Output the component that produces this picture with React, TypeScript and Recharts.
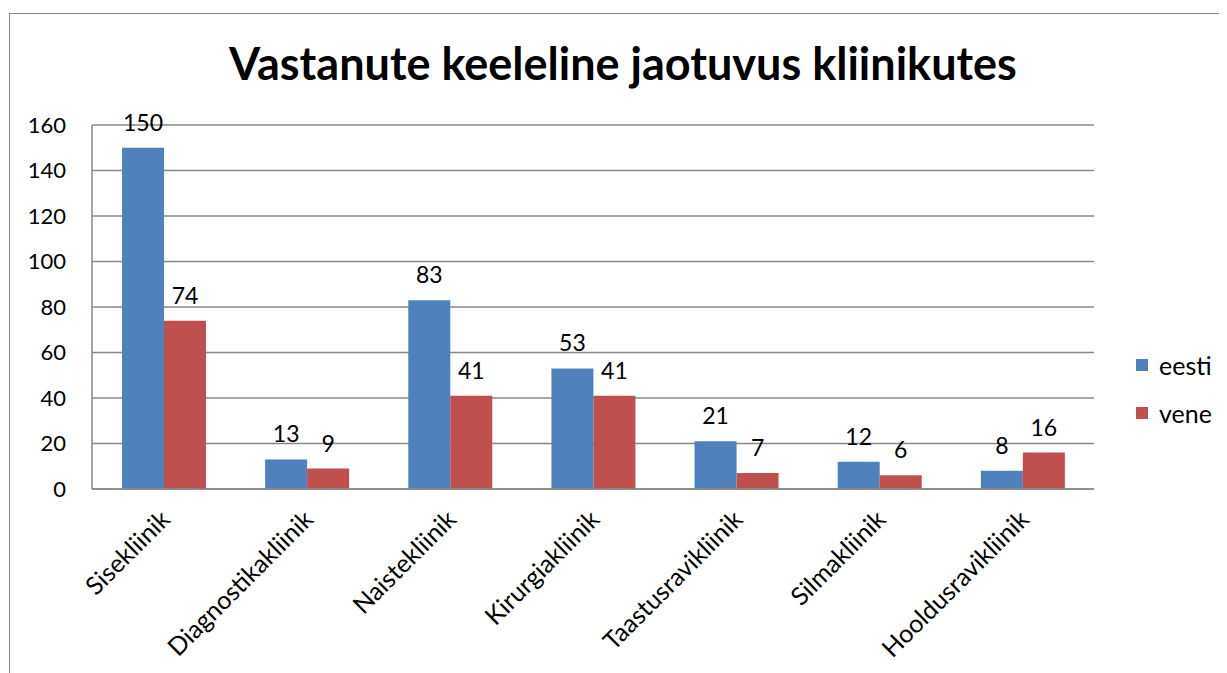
import React from 'react';
import { BarChart, Bar, XAxis, YAxis, CartesianGrid, Legend, LabelList } from 'recharts';

const clinics = [
  'Sisekliinik',
  'Diagnostikakliinik',
  'Naistekliinik',
  'Kirurgiakliinik',
  'Taastusravikliinik',
  'Silmakliinik',
  'Hooldusravikliinik',
];
const eesti = [150, 13, 83, 53, 21, 12, 8];
const vene = [74, 9, 41, 41, 7, 6, 16];
const yTicks = [0, 20, 40, 60, 80, 100, 120, 140, 160];

const data = clinics.map((name, i) => ({ name, eesti: eesti[i], vene: vene[i] }));

const FONT = 'Lato, "Open Sans", sans-serif';

const ClinicTick = (props: any) => {
  const { x, y, payload } = props;
  return (
    <text
      x={x + 8}
      y={y + 24}
      transform={`rotate(-45, ${x + 8}, ${y + 24})`}
      textAnchor="end"
      fontSize={25}
      fontFamily={FONT}
      fill="#000"
    >
      {payload.value}
    </text>
  );
};

const SideLegend = (props: any) => {
  const { payload } = props;
  return (
    <div style={{ fontFamily: FONT, fontSize: 25, color: '#000' }}>
      {payload.map((p: any) => (
        <div key={p.value} style={{ display: 'flex', alignItems: 'center', height: 48 }}>
          <span style={{ width: 12, height: 12, background: p.color, display: 'inline-block', marginRight: 11 }} />
          <span>{p.value}</span>
        </div>
      ))}
    </div>
  );
};

export default function App() {
  return (
    <div
      style={{
        position: 'relative',
        marginLeft: 1,
        marginTop: 5,
        width: 1240,
        height: 680,
        border: '1px solid #868686',
        background: '#fff',
      }}
    >
      <div
        style={{
          position: 'absolute',
          left: 0,
          width: 1226,
          top: 22,
          textAlign: 'center',
          fontFamily: FONT,
          fontWeight: 'bold',
          fontSize: 45,
          color: '#000',
        }}
      >
        Vastanute keeleline jaotuvus kliinikutes
      </div>
      <div style={{ position: 'absolute', left: 0, top: 0 }}>
        <BarChart
          width={1220}
          height={660}
          data={data}
          margin={{ top: 111, right: 36, bottom: 15, left: 22 }}
          barCategoryGap={30}
          barGap={0}
        >
          <CartesianGrid vertical={false} stroke="#888" strokeWidth={1.5} />
          <XAxis
            dataKey="name"
            interval={0}
            height={170}
            tickLine={false}
            axisLine={{ stroke: '#888', strokeWidth: 1.5 }}
            tick={<ClinicTick />}
          />
          <YAxis
            width={60}
            domain={[0, 160]}
            ticks={yTicks}
            tickLine={false}
            tickSize={0}
            tickMargin={26}
            axisLine={{ stroke: '#888', strokeWidth: 1.5 }}
            tick={{ fill: '#000', fontSize: 22, fontFamily: FONT }}
          />
          <Legend
            layout="vertical"
            align="right"
            verticalAlign="top"
            content={<SideLegend />}
            wrapperStyle={{ left: 1126, top: 327, width: 100 }}
          />
          <Bar dataKey="eesti" name="eesti" fill="#4F81BD" isAnimationActive={false}>
            <LabelList dataKey="eesti" position="top" offset={17} fill="#000" fontSize={23} fontFamily={FONT} />
          </Bar>
          <Bar dataKey="vene" name="vene" fill="#C0504D" isAnimationActive={false}>
            <LabelList dataKey="vene" position="top" offset={17} fill="#000" fontSize={23} fontFamily={FONT} />
          </Bar>
        </BarChart>
      </div>
    </div>
  );
}
